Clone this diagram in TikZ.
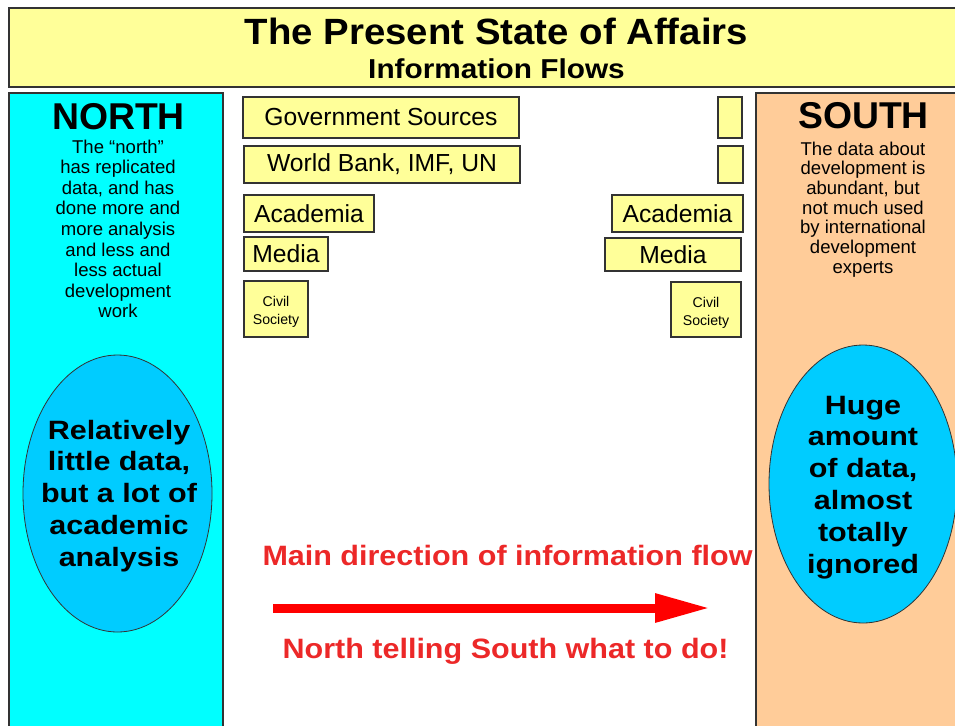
\documentclass[tikz,border=0pt]{standalone}
\usepackage{fontspec}
\setmainfont{Liberation Sans}
\usepackage{graphicx}
\usetikzlibrary{shapes.geometric,fit,arrows.meta}
\definecolor{slideyellow}{RGB}{255,255,153}
\definecolor{northcyan}{RGB}{0,255,255}
\definecolor{bubbleblue}{RGB}{0,204,255}
\definecolor{southpeach}{RGB}{255,204,153}
\definecolor{flowred}{RGB}{236,40,40}
\definecolor{arrowred}{RGB}{255,0,0}
\definecolor{edgegray}{RGB}{51,51,51}
\newcommand\mlines[1]{\begin{tabular}[t]{@{}c@{}}#1\end{tabular}}
\newcommand\mlinesc[1]{\raisebox{-2.4pt}[\height][\depth]{\begin{tabular}{@{}c@{}}#1\end{tabular}}}
\newcommand\fsz[2]{\fontsize{#1}{#2}\selectfont}
\begin{document}
\begin{tikzpicture}[x=0.75pt,y=-0.75pt,
  panel/.style={draw=edgegray, line width=1.1pt, inner sep=0pt},
  ybox/.style={draw=edgegray, fill=slideyellow, line width=1.1pt, inner sep=0pt, font=\fsz{18.5pt}{22pt}},
  civbox/.style={ybox, font=\fsz{10.6pt}{13.5pt}},
  bubble/.style={ellipse, draw=edgegray, line width=0.6pt, fill=bubbleblue, inner sep=0pt},
  txt/.style={inner sep=0pt, anchor=base},
  bodytxt/.style={txt, font=\fsz{13.9pt}{15.45pt}},
  bubbletxt/.style={txt, font=\bfseries\fsz{19.9pt}{23.85pt}},
  redtxt/.style={txt, text=flowred, font=\bfseries\fsz{21pt}{25pt}}
]
\useasboundingbox (0,0) rectangle (955,725);
% title box
\node[panel, fill=slideyellow, fit={(9,8)(965,87)}] (titlebox) {};
\node[txt, font=\bfseries\fsz{27.4pt}{31pt}] (title) at (496.5,44) {\scalebox{1.05}[1]{The Present State of Affairs}};
\node[txt, font=\bfseries\fsz{20.5pt}{24pt}] (subtitle) at (496.5,78) {\scalebox{1.09}[1]{Information Flows}};
% side panels
\node[panel, fill=northcyan, fit={(9,93)(223,735)}] (northpanel) {};
\node[panel, fill=southpeach, fit={(756,93)(965,735)}] (southpanel) {};
% north texts
\node[txt, font=\bfseries\fsz{28pt}{32pt}] (northhead) at (118.5,129) {NORTH};
\node[bodytxt] (northbody) at (118,153) {\mlines{The “north”\\has replicated\\data, and has\\done more and\\more analysis\\and less and\\less actual\\development\\work}};
% south texts
\node[txt, font=\bfseries\fsz{28pt}{32pt}] (southhead) at (863.5,128) {SOUTH};
\node[bodytxt, font=\fsz{13.9pt}{14.8pt}] (southbody) at (863,155) {\mlines{The data about\\development is\\abundant, but\\not much used\\by international\\development\\experts}};
% source boxes, north side
\node[ybox, minimum width=207pt, minimum height=30.75pt] (gov) at (381,117.5) {Government Sources};
\node[ybox, minimum width=207pt, minimum height=27.75pt] (wb) at (382,164.5) {World Bank, IMF, UN};
\node[ybox, minimum width=97.5pt, minimum height=27.75pt] (acaL) at (309,213.5) {Academia};
\node[ybox, minimum width=63pt, minimum height=25.5pt] (medL) at (286,254) {Media};
\node[civbox, minimum width=48pt, minimum height=42pt] (civL) at (276,309) {\mlinesc{Civil\\Society}};
% source boxes, south side
\node[ybox, minimum width=18pt, minimum height=30.75pt] (govR) at (730,117.5) {};
\node[ybox, minimum width=18.75pt, minimum height=27.75pt] (wbR) at (730.5,164.5) {};
\node[ybox, minimum width=98.25pt, minimum height=27.75pt] (acaR) at (677.5,213.5) {Academia};
\node[ybox, minimum width=102pt, minimum height=24.75pt] (medR) at (673,254.5) {Media};
\node[civbox, minimum width=52.5pt, minimum height=41.25pt] (civR) at (706,309.5) {\mlinesc{Civil\\Society}};
% bubbles
\node[bubble, minimum width=141.75pt, minimum height=207.75pt] (nbubble) at (117.5,493.5) {};
\node[bubbletxt] (nbubbletxt) at (119,439) {\scalebox{1.15}[1]{\mlines{Relatively\\little data,\\but a lot of\\academic\\analysis}}};
\node[bubble, minimum width=141pt, minimum height=208.5pt] (sbubble) at (863,484) {};
\node[bubbletxt] (sbubbletxt) at (863,414) {\scalebox{1.15}[1]{\mlines{Huge\\amount\\of data,\\almost\\totally\\ignored}}};
% flow
\node[redtxt] (flowlabel) at (507.5,565) {\scalebox{1.09}[1]{Main direction of information flow}};
\node[redtxt] (flownote) at (505.5,658) {\scalebox{1.09}[1]{North telling South what to do!}};
\coordinate (flowstart) at (273,608);
\coordinate (flowend) at (710,608);
\draw[arrowred, line width=6.75pt, -{Triangle[length=41.25pt,width=20.25pt]}] (flowstart) -- (flowend);
\end{tikzpicture}
\end{document}
